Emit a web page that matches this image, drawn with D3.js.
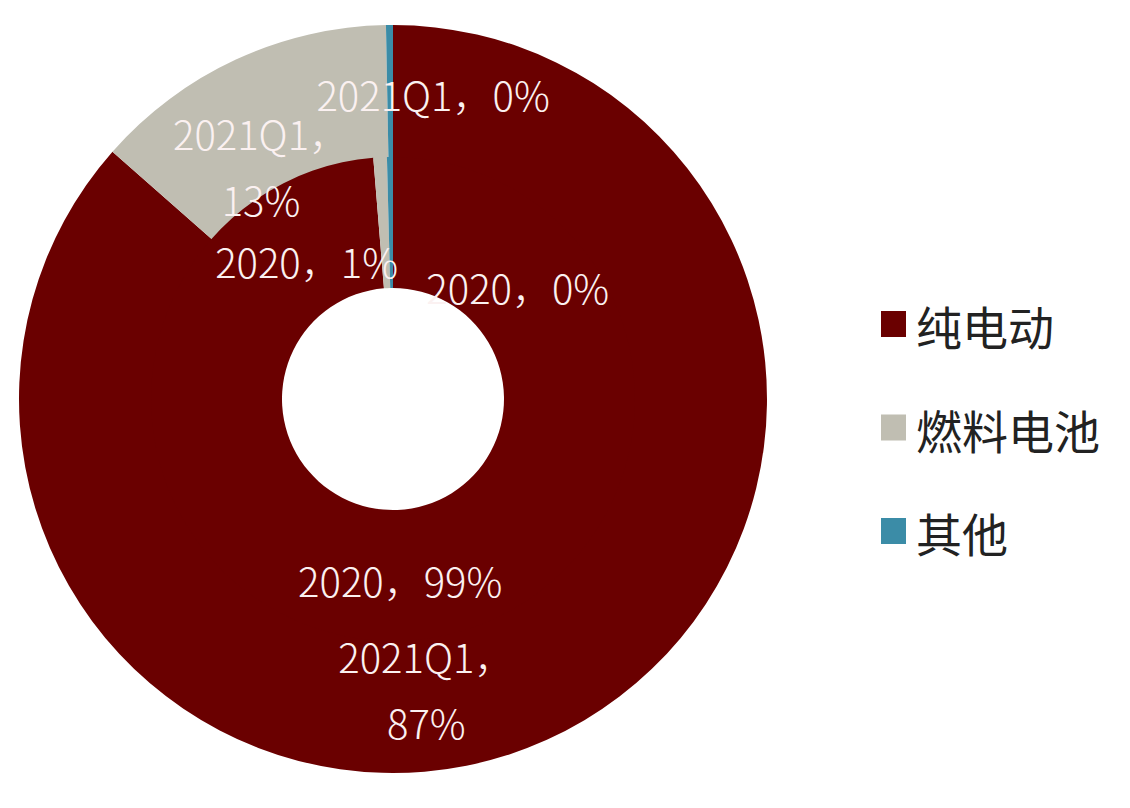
<!DOCTYPE html>
<html lang="zh">
<head>
<meta charset="UTF-8">
<script src="https://cdn.jsdelivr.net/npm/d3@7"></script>
<style>
    body { margin: 0; background: #fff; }
    svg { display: block; }
    .lbl { font-family: "Noto Sans CJK SC", "Noto Sans", sans-serif; font-weight: 300; fill: #fbf1f1; }
    .leg { font-family: "Noto Sans CJK SC", sans-serif; fill: #222; }
</style>
</head>
<body>
<svg width="1130" height="808"></svg>
<script>
    // categories and the two rings (inner = 2020, outer = 2021Q1), in %
    var categories = ["纯电动", "燃料电池", "其他"];
    var colors = ["#6a0000", "#c0beb2", "#3b8ca7"];
    var years = ["2020", "2021Q1"];
    var values2020 = [98.7, 0.9, 0.4];
    var values2021 = [86.5, 13.2, 0.3];
    var shown2020 = ["99%", "1%", "0%"];
    var shown2021 = ["87%", "13%", "0%"];

    // label nudges from arc centroid (Excel had them dragged around)
    var nudge2020 = [[0, 5], [-77, 38], [127, 64]];
    var nudge2021 = [[-93, 10], [-3, 46], [43, 2]];

    var svg = d3.select("svg");
    var cx = 393, cy = 399;
    var rHole = 111, rMid = 242, rOuter = 374;

    var g = svg.append("g").attr("transform", "translate(" + cx + "," + cy + ")");
    var pie = d3.pie().sort(null).value(function (d) { return d; });

    // outer ring drawn first and tucked under the inner one, so no seam shows
    var rings = [
        {year: years[1], values: values2021, shown: shown2021, nudge: nudge2021, r0: rMid - 2, r1: rOuter, split: true},
        {year: years[0], values: values2020, shown: shown2020, nudge: nudge2020, r0: rHole, r1: rMid, split: false}
    ];

    rings.forEach(function (ring) {
        var arc = d3.arc().innerRadius(ring.r0).outerRadius(ring.r1);
        var arcs = pie(ring.values);
        g.append("g").selectAll("path")
            .data(arcs)
            .enter()
            .append("path")
            .attr("d", arc)
            .attr("fill", function (d, i) { return colors[i]; });
        ring.arc = arc;
        ring.arcs = arcs;
    });

    // labels drawn after all paths so none is covered
    rings.forEach(function (ring) {
        ring.arcs.forEach(function (d, i) {
            var c = ring.arc.centroid(d);
            var x = c[0] + ring.nudge[i][0], y = c[1] + ring.nudge[i][1];
            var t = g.append("text").attr("class", "lbl")
                .attr("text-anchor", "middle")
                .attr("font-size", 40);
            // two-line labels for the wider 2021Q1 slices
            if (ring.split && i < 2) {
                t.append("tspan").attr("x", x).attr("y", y - 33).attr("dominant-baseline", "central")
                    .text(ring.year + "，");
                t.append("tspan").attr("x", x).attr("y", y + 33).attr("dominant-baseline", "central")
                    .text(ring.shown[i]);
            } else {
                t.attr("x", x).attr("y", y).attr("dominant-baseline", "central")
                    .text(ring.year + "，" + ring.shown[i]);
            }
        });
    });

    // legend
    var legend = svg.append("g").attr("transform", "translate(881,311)");
    var item = legend.selectAll("g")
        .data(categories)
        .enter()
        .append("g")
        .attr("transform", function (d, i) { return "translate(0," + i * 103.5 + ")"; });
    item.append("rect")
        .attr("width", 25)
        .attr("height", 26)
        .attr("fill", function (d, i) { return colors[i]; });
    item.append("text")
        .attr("class", "leg")
        .attr("x", 35)
        .attr("y", 14)
        .attr("dominant-baseline", "central")
        .attr("font-size", 46)
        .text(function (d) { return d; });
</script>
</body>
</html>
